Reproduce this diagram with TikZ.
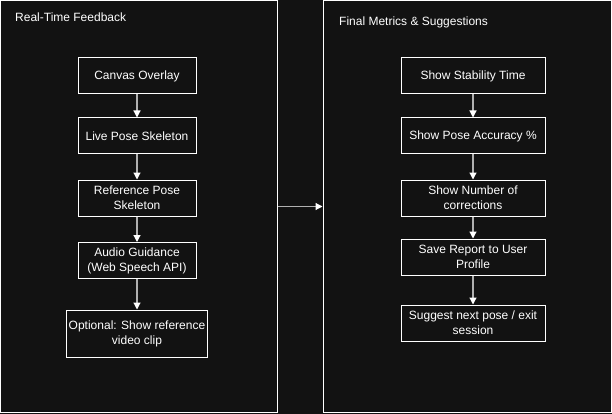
\documentclass[tikz,border=0pt]{standalone}
\usepackage{fontspec}
\setmainfont{Liberation Sans}
\usetikzlibrary{arrows.meta}

\definecolor{bgdark}{HTML}{121212}
\definecolor{shaft}{HTML}{B0B0B0}

\tikzset{
  panel/.style={draw=white, line width=1pt, inner sep=0pt},
  stepbox/.style={draw=white, line width=1pt, fill=bgdark, text=white, align=center,
    minimum width=118pt, minimum height=36pt, inner sep=2pt,
    font=\fontsize{12}{15}\selectfont},
  title/.style={text=white, anchor=west, inner sep=0pt, font=\fontsize{12}{14}\selectfont},
  flow/.style={draw=shaft, line width=1.2pt, -{Triangle[color=white, length=7pt, width=7pt]}}
}

\begin{document}
\begin{tikzpicture}[x=1pt, y=-1pt]
    \fill[bgdark] (0,0) rectangle (612,414);
    \useasboundingbox (0,0) rectangle (612,414);

    % containers
    \node[panel, minimum width=277pt, minimum height=411pt] (rtf) at (139,206.5) {};
    \node[panel, minimum width=288pt, minimum height=411pt] (fms) at (467,206.5) {};
    \node[title] (rtftitle) at (15,17) {Real-Time Feedback};
    \node[title] (fmstitle) at (339,22) {Final Metrics \& Suggestions};

    % real-time feedback steps
    \node[stepbox] (canvas) at (137,76) {Canvas Overlay};
    \node[stepbox] (live) at (137,136) {Live Pose Skeleton};
    \node[stepbox] (refpose) at (137,198) {Reference Pose\\Skeleton};
    \node[stepbox] (audio) at (137,260.5) {Audio Guidance\\(Web Speech API)};
    \node[stepbox, minimum width=140pt, minimum height=47pt] (optional) at (137,333.5)
      {Optional: Show reference\\video clip};

    % final metrics steps
    \node[stepbox, minimum width=144pt] (stability) at (473,76) {Show Stability Time};
    \node[stepbox, minimum width=144pt] (accuracy) at (473,136) {Show Pose Accuracy \%};
    \node[stepbox, minimum width=144pt] (corrections) at (473,198) {Show Number of\\corrections};
    \node[stepbox, minimum width=144pt] (report) at (473,257) {Save Report to User\\Profile};
    \node[stepbox, minimum width=144pt] (suggest) at (473,323) {Suggest next pose / exit\\session};

    \draw[flow] (canvas) -- (live);
    \draw[flow] (live) -- (refpose);
    \draw[flow] (refpose) -- (audio);
    \draw[flow] (audio) -- (optional);

    \draw[flow] (stability) -- (accuracy);
    \draw[flow] (accuracy) -- (corrections);
    \draw[flow] (corrections) -- (report);
    \draw[flow] (report) -- (suggest);

    \draw[flow] (rtf.east) -- (fms.west);
\end{tikzpicture}
\end{document}
